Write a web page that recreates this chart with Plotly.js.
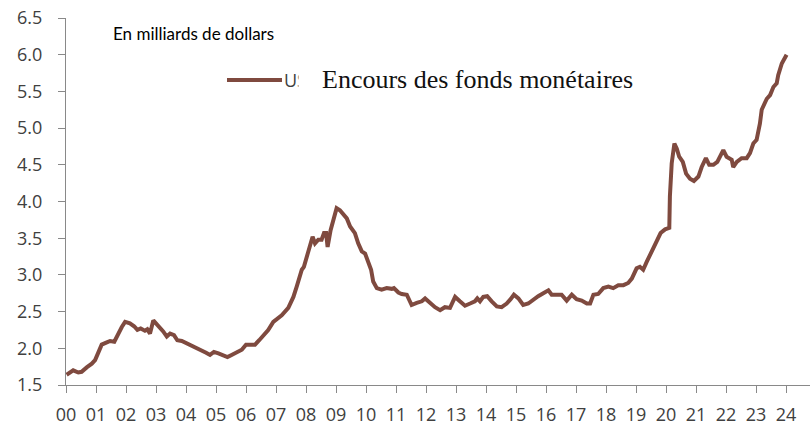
<!DOCTYPE html>
<html>
<head>
<meta charset="utf-8">
<script src="https://cdn.plot.ly/plotly-3.0.1.min.js"></script>
<style>html,body{margin:0;padding:0;background:#fff;}#chart{width:810px;height:428px;}</style>
</head>
<body>
<div id="chart"></div>
<script>
// Decimal years (2000 = 0)
const years = [
 0.02,0.24,0.41,0.52,0.69,0.86,0.97,1.08,1.19,1.36,1.47,1.61,1.74,1.86,1.97,
 2.13,2.27,2.38,2.49,2.63,2.71,2.80,2.91,3.02,3.13,3.24,3.36,3.47,3.60,3.71,3.86,
 4.02,4.19,4.36,4.52,4.67,4.80,4.93,5.08,5.24,5.38,5.52,5.69,5.86,
 6.00,6.13,6.30,6.44,6.58,6.74,6.91,7.02,7.19,7.41,7.58,7.69,7.86,7.93,
 8.02,8.13,8.22,8.30,8.41,8.52,8.60,8.67,8.72,8.82,8.91,9.02,9.13,9.24,9.36,9.47,9.63,9.74,9.86,9.97,
 10.08,10.17,10.24,10.36,10.52,10.69,10.86,10.93,11.08,11.19,11.36,11.52,11.69,11.86,11.97,
 12.13,12.30,12.47,12.63,12.80,12.97,13.13,13.30,13.47,13.63,13.71,13.80,13.91,
 14.04,14.19,14.36,14.52,14.69,14.82,14.93,15.08,15.24,15.41,15.58,15.74,15.91,
 16.08,16.19,16.36,16.52,16.69,16.86,17.02,17.19,17.36,17.47,17.58,17.74,17.91,
 18.08,18.24,18.41,18.58,18.74,18.86,18.97,19.02,19.13,19.24,19.36,19.47,19.58,19.71,19.82,19.97,
 20.11,20.13,20.19,20.28,20.36,20.44,20.56,20.67,20.80,20.93,
 21.08,21.19,21.33,21.44,21.58,21.71,21.91,22.02,22.19,22.24,22.36,22.52,22.69,22.80,22.91,
 23.02,23.13,23.19,23.36,23.47,23.58,23.69,23.74,23.86,23.97,24.02
];
const values = [
 1.64,1.70,1.67,1.68,1.74,1.79,1.84,1.95,2.05,2.08,2.10,2.09,2.20,2.29,2.36,
 2.34,2.30,2.25,2.27,2.24,2.26,2.20,2.38,2.33,2.29,2.23,2.16,2.20,2.18,2.11,2.10,
 2.07,2.03,2.00,1.98,1.94,1.91,1.95,1.93,1.90,1.88,1.91,1.94,1.98,
 2.05,2.05,2.05,2.11,2.18,2.25,2.36,2.40,2.45,2.55,2.70,2.84,3.07,3.11,
 3.25,3.43,3.52,3.43,3.48,3.48,3.57,3.57,3.38,3.61,3.75,3.91,3.88,3.82,3.77,3.66,3.57,3.43,3.32,3.29,
 3.18,3.07,2.91,2.82,2.80,2.82,2.81,2.82,2.76,2.74,2.73,2.59,2.62,2.64,2.68,
 2.62,2.56,2.52,2.56,2.55,2.70,2.64,2.58,2.61,2.64,2.68,2.64,2.70,
 2.71,2.64,2.57,2.56,2.61,2.67,2.73,2.68,2.59,2.61,2.67,2.71,2.75,
 2.79,2.73,2.73,2.73,2.65,2.73,2.67,2.65,2.61,2.61,2.73,2.74,2.82,
 2.84,2.82,2.86,2.86,2.89,2.95,3.07,3.09,3.11,3.07,3.18,3.27,3.36,3.48,3.57,3.62,
 3.64,4.07,4.52,4.79,4.72,4.61,4.54,4.38,4.31,4.28,
 4.34,4.47,4.59,4.50,4.50,4.54,4.70,4.61,4.57,4.47,4.54,4.59,4.59,4.66,4.79,
 4.84,5.06,5.25,5.40,5.45,5.56,5.61,5.72,5.88,5.97,6.00
];
const seriesName = "US";
const tickYears = [];
const tickLabels = [];
for (let i = 0; i <= 24; i++) { tickYears.push(2000 + i); tickLabels.push(String(i).padStart(2, "0")); }
const yTicks = [1.5,2.0,2.5,3.0,3.5,4.0,4.5,5.0,5.5,6.0,6.5];
const titleText = "Encours des fonds monétaires";
const unitText = "En milliards de dollars";

const lineColor = "#7f4a3f";
const axisColor = "#898989";
const tickFont = {family: "Open Sans, sans-serif", size: 18, color: "#404040"};

const trace = {
  x: years.map(v => 2000 + v),
  y: values,
  type: "scatter",
  mode: "lines",
  name: seriesName,
  line: {color: lineColor, width: 4},
  showlegend: false,
  hoverinfo: "skip"
};

// plot area: x 66..810 px, y 18..385 px
const px = p => (p - 66) / 744;
const py = p => (385 - p) / 367;

const layout = {
  width: 810, height: 428,
  margin: {l: 66, r: 0, t: 18, b: 43},
  paper_bgcolor: "#ffffff", plot_bgcolor: "#ffffff",
  xaxis: {
    range: [2000, 2024.8],
    tickmode: "array", tickvals: tickYears, ticktext: tickLabels,
    ticks: "outside", ticklen: 7, tickcolor: axisColor, tickwidth: 1,
    showline: true, linecolor: axisColor, linewidth: 1,
    showgrid: false, zeroline: false,
    tickfont: tickFont, ticklabelstandoff: 6
  },
  yaxis: {
    range: [1.5, 6.5],
    tickmode: "array", tickvals: yTicks, ticktext: yTicks.map(v => v.toFixed(1)),
    ticks: "outside", ticklen: 7, tickcolor: axisColor, tickwidth: 1,
    showline: true, linecolor: axisColor, linewidth: 1,
    showgrid: false, zeroline: false,
    tickfont: tickFont, ticklabelstandoff: 12
  },
  shapes: [
    {type: "line", xref: "paper", yref: "paper", x0: px(227), x1: px(282), y0: py(80), y1: py(80),
     line: {color: lineColor, width: 4}}
  ],
  annotations: [
    {xref: "paper", yref: "paper", x: px(111), y: py(33), xanchor: "left", yanchor: "middle",
     text: unitText, showarrow: false, font: {family: "Lato, sans-serif", size: 17, color: "#000"}},
    {xref: "paper", yref: "paper", x: px(282), y: py(80), xanchor: "left", yanchor: "middle",
     text: seriesName, showarrow: false, font: tickFont},
    {xref: "paper", yref: "paper", x: px(298), y: py(79), xanchor: "left", yanchor: "middle",
     text: titleText, showarrow: false, bgcolor: "#ffffff", borderpad: 23,
     font: {family: "Liberation Serif, serif", size: 26, color: "#111"}}
  ]
};

Plotly.newPlot("chart", [trace], layout, {staticPlot: true, displayModeBar: false});
</script>
</body>
</html>
